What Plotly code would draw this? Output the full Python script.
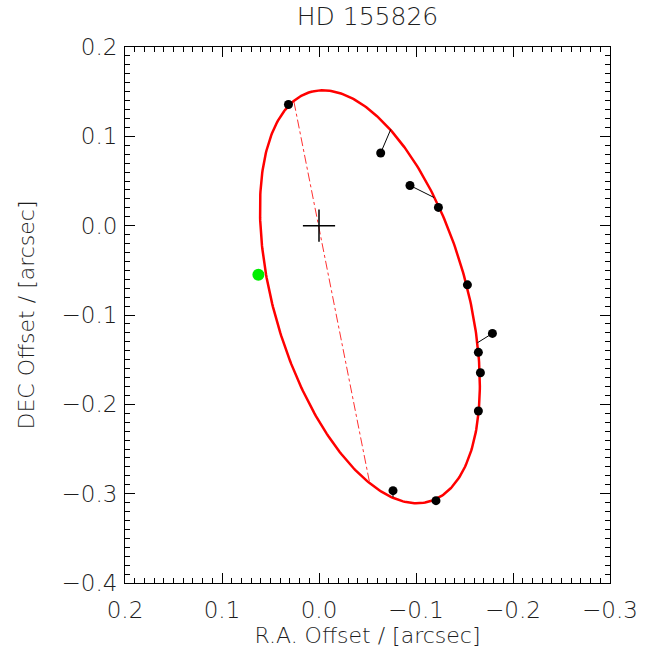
import numpy as np
import plotly.graph_objects as go

# Observed relative positions (arcsec)
ra_obs = [0.0315, -0.0636, -0.0938, -0.1231, -0.1530, -0.1788, -0.1643, -0.1664, -0.1643, -0.0763, -0.1206]
dec_obs = [0.1356, 0.0814, 0.0450, 0.0204, -0.0662, -0.1206, -0.1418, -0.1647, -0.2075, -0.2966, -0.3078]
# Predicted (orbit) positions for the residual lines
ra_fit = [0.0292, -0.0739, -0.1186, -0.1231, -0.1530, -0.1633, -0.1643, -0.1664, -0.1643, -0.0763, -0.1206]
dec_fit = [0.1380, 0.1076, 0.0315, 0.0204, -0.0662, -0.1311, -0.1418, -0.1647, -0.2075, -0.3040, -0.3078]

# Extra (green) point and its orbit position
ra_green = [0.0625]
dec_green = [-0.0550]
ra_green_fit = [0.0570]
dec_green_fit = [-0.0525]

# Apparent orbit ellipse parameters
ell_center = (-0.0525, -0.0796)
ell_a = 0.2373
ell_b = 0.0998
ell_angle_deg = 75.55

# Line of nodes endpoints
node_ra = [0.0258, -0.0523]
node_dec = [0.1385, -0.2884]

x_ticks = [0.2, 0.1, 0.0, -0.1, -0.2, -0.3]
x_ticklabels = ["0.2", "0.1", "0.0", "\u22120.1", "\u22120.2", "\u22120.3"]
y_ticks = [0.2, 0.1, 0.0, -0.1, -0.2, -0.3, -0.4]
y_ticklabels = ["0.2", "0.1", "0.0", "\u22120.1", "\u22120.2", "\u22120.3", "\u22120.4"]

t = np.linspace(0, 2 * np.pi, 400)
phi = np.deg2rad(ell_angle_deg)
ex = ell_center[0] + ell_a * np.cos(t) * np.cos(phi) - ell_b * np.sin(t) * np.sin(phi)
ey = ell_center[1] + ell_a * np.cos(t) * np.sin(phi) + ell_b * np.sin(t) * np.cos(phi)

fig = go.Figure()

# Orbit
fig.add_trace(go.Scatter(x=ex, y=ey, mode="lines", line=dict(color="#ff0000", width=2.5),
                         hoverinfo="skip", showlegend=False))
# Line of nodes
fig.add_trace(go.Scatter(x=node_ra, y=node_dec, mode="lines",
                         line=dict(color="#ff3030", width=1, dash="dashdot"),
                         hoverinfo="skip", showlegend=False))
# Residual lines
rx, ry = [], []
for xo, yo, xf, yf in zip(ra_obs, dec_obs, ra_fit, dec_fit):
    rx += [xo, xf, None]
    ry += [yo, yf, None]
fig.add_trace(go.Scatter(x=rx, y=ry, mode="lines", line=dict(color="black", width=1),
                         hoverinfo="skip", showlegend=False))
fig.add_trace(go.Scatter(x=[ra_green[0], ra_green_fit[0]], y=[dec_green[0], dec_green_fit[0]],
                         mode="lines", line=dict(color="#00ee00", width=1),
                         hoverinfo="skip", showlegend=False))
# Observations
fig.add_trace(go.Scatter(x=ra_obs, y=dec_obs, mode="markers",
                         marker=dict(color="black", size=9), showlegend=False))
fig.add_trace(go.Scatter(x=ra_green, y=dec_green, mode="markers",
                         marker=dict(color="#00ee00", size=12), showlegend=False))
# Primary star
fig.add_trace(go.Scatter(x=[0], y=[0], mode="markers",
                         marker=dict(symbol="cross-thin", size=23, line=dict(color="black", width=1.5)),
                         showlegend=False))

font_family = "DejaVu Sans"
text_color = "#1e1e1e"
axis_common = dict(
    showgrid=False, zeroline=False, showline=True, linecolor="black", linewidth=1,
    mirror="allticks", ticks="inside", ticklen=10, tickwidth=1, tickcolor="black",
    minor=dict(ticks="inside", ticklen=5, tickwidth=1, tickcolor="black", dtick=0.01),
    tickfont=dict(family=font_family, size=23, color=text_color, weight=200),
)

fig.update_layout(
    width=654, height=656,
    margin=dict(l=125, r=44, t=47, b=73),
    paper_bgcolor="white", plot_bgcolor="white",
    title=dict(text="HD 155826", x=0.5, xref="paper", xanchor="center", y=0.988, yanchor="top",
               font=dict(family=font_family, size=25, color=text_color, weight=200)),
    xaxis=dict(range=[0.2, -0.3], tickvals=x_ticks, ticktext=x_ticklabels, ticklabelstandoff=6,
               title=dict(text="R.A. Offset / [arcsec]", standoff=6,
                          font=dict(family=font_family, size=22, color=text_color, weight=200)),
               **axis_common),
    yaxis=dict(range=[-0.4, 0.2], tickvals=y_ticks, ticktext=y_ticklabels, ticklabelstandoff=2,
               title=dict(text="DEC Offset / [arcsec]", standoff=20,
                          font=dict(family=font_family, size=22, color=text_color, weight=200)),
               **axis_common),
)

fig.write_html("out.html")
